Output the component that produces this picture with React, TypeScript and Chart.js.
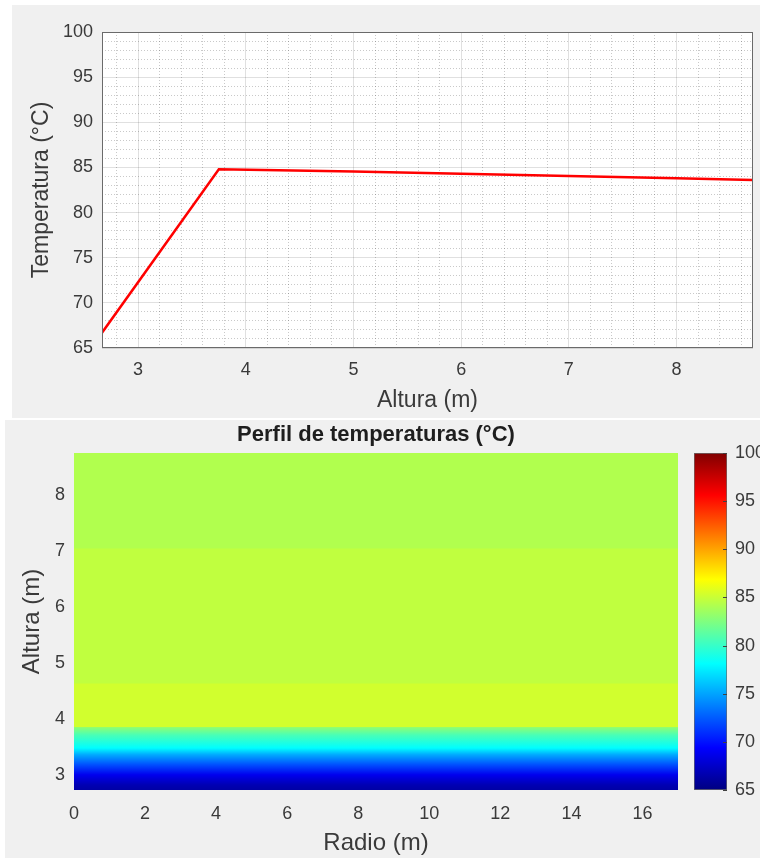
import React, { useEffect, useRef } from "react";
import { Chart, registerables } from "chart.js";

Chart.register(...registerables);

const FONT = '"Liberation Sans", Arial, Helvetica, sans-serif';
const TXT = "#3a3a3a";

// ---------- Top chart: temperature vs altitude ----------
const profileAltura = [2.665, 3.75, 5, 6, 7, 8, 8.71];
const profileTemp = [66.7, 84.8, 84.55, 84.3, 84.05, 83.8, 83.6];
const alturaTicks = [3, 4, 5, 6, 7, 8];
const tempTicks = [65, 70, 75, 80, 85, 90, 95, 100];
const alturaRange = [2.665, 8.71];
const tempRange = [65, 100];

// ---------- Bottom chart: temperature map (radio x altura) ----------
const radioTicks = [0, 2, 4, 6, 8, 10, 12, 14, 16];
const mapAlturaTicks = [3, 4, 5, 6, 7, 8];
const radioRange = [0, 17];
const mapAlturaRange = [2.73, 8.75];
// uniform bands: altitude where each band starts (extends up to the top) and its temperature
const bandFrom = [7.05, 4.64, 3.86];
const bandTemp = [84.2, 84.7, 85.3];
// smooth lower zone: altitude / temperature samples
const gradAltura = [3.86, 3.84, 3.71, 3.48, 3.36, 3.18, 3.0, 2.82, 2.73];
const gradTemp = [83.5, 82.8, 80.6, 78.1, 75.2, 72.1, 68.8, 66.75, 66.3];

// ---------- Colorbar ----------
const colorbarTicks = [65, 70, 75, 80, 85, 90, 95, 100];
const colorRange = [65, 100];
const jetKnots = [65, 69.375, 78.125, 86.875, 95.625, 100];

function clamp01(v: number) {
  return Math.max(0, Math.min(1, v));
}
function jetColor(t: number) {
  const x = (t - colorRange[0]) / (colorRange[1] - colorRange[0]);
  const r = clamp01(1.5 - Math.abs(4 * x - 3));
  const g = clamp01(1.5 - Math.abs(4 * x - 2));
  const b = clamp01(1.5 - Math.abs(4 * x - 1));
  return `rgb(${Math.round(r * 255)},${Math.round(g * 255)},${Math.round(b * 255)})`;
}

const framePlugin = {
  id: "frame",
  beforeDraw(chart: any, _a: any, opts: any) {
    if (!opts || !opts.fill) return;
    const { ctx, chartArea: a } = chart;
    ctx.save();
    ctx.fillStyle = opts.fill;
    ctx.fillRect(a.left, a.top, a.right - a.left, a.bottom - a.top);
    ctx.restore();
  },
  afterDraw(chart: any, _a: any, opts: any) {
    if (!opts || !opts.stroke) return;
    const { ctx, chartArea: a } = chart;
    ctx.save();
    ctx.strokeStyle = opts.stroke;
    ctx.lineWidth = 1;
    ctx.strokeRect(
      Math.round(a.left) + 0.5,
      Math.round(a.top) + 0.5,
      Math.round(a.right - a.left) - 1,
      Math.round(a.bottom - a.top) - 1
    );
    ctx.restore();
  },
};

// small inward tick marks on the right edge of the colorbar (MATLAB style)
const cbTicksPlugin = {
  id: "cbTicks",
  afterDraw(chart: any) {
    const { ctx, chartArea: a } = chart;
    const ys = chart.scales.y;
    ctx.save();
    ctx.strokeStyle = "#404040";
    ctx.lineWidth = 1;
    ys.ticks.forEach((t: any) => {
      const p = Math.round(ys.getPixelForValue(t.value)) + 0.5;
      ctx.beginPath();
      ctx.moveTo(a.right - 4, p);
      ctx.lineTo(a.right, p);
      ctx.stroke();
    });
    ctx.restore();
  },
};

function setTicks(values: number[]) {
  return (scale: any) => {
    scale.ticks = values.map((v) => ({ value: v }));
  };
}
function minorTicks(min: number, max: number, step: number, skip: number[]) {
  return (scale: any) => {
    const t: any[] = [];
    const start = Math.ceil(min / step) * step;
    for (let v = start; v < max - 1e-9; v += step) {
      const vv = Math.round(v * 1000) / 1000;
      if (vv > min + 1e-6 && !skip.some((s) => Math.abs(s - vv) < 1e-6)) t.push({ value: vv });
    }
    scale.ticks = t;
  };
}

export default function App() {
  const topRef = useRef<HTMLCanvasElement>(null);
  const heatRef = useRef<HTMLCanvasElement>(null);
  const cbRef = useRef<HTMLCanvasElement>(null);

  useEffect(() => {
    const tickFont = { family: FONT, size: 18 };
    const labelFont = { family: FONT, size: 23 };
    const labelFont2 = { family: FONT, size: 24 };

    const top = new Chart(topRef.current!, {
      type: "line",
      data: {
        datasets: [
          {
            data: profileAltura.map((x, i) => ({ x, y: profileTemp[i] })),
            borderColor: "#ff0000",
            borderWidth: 2.5,
            pointRadius: 0,
            tension: 0,
            fill: false,
          },
        ],
      },
      plugins: [framePlugin],
      options: {
        animation: false,
        responsive: false,
        events: [],
        layout: { padding: { left: 0, top: 27, right: 7, bottom: 0 } },
        plugins: {
          legend: { display: false },
          tooltip: { enabled: false },
          frame: { fill: "#ffffff", stroke: "#6a6a6a" },
        } as any,
        scales: {
          xMinor: {
            type: "linear",
            position: "top",
            min: alturaRange[0],
            max: alturaRange[1],
            afterBuildTicks: minorTicks(alturaRange[0], alturaRange[1], 0.2, alturaTicks),
            afterFit: (s: any) => {
              s.height = 0;
            },
            ticks: { display: false },
            grid: { color: "rgba(38,38,38,0.25)", drawTicks: false, lineWidth: 1 },
            border: { display: false, dash: [1, 2] },
          },
          yMinor: {
            type: "linear",
            position: "right",
            min: tempRange[0],
            max: tempRange[1],
            afterBuildTicks: minorTicks(tempRange[0], tempRange[1], 1, tempTicks),
            afterFit: (s: any) => {
              s.width = 0;
            },
            ticks: { display: false },
            grid: { color: "rgba(38,38,38,0.25)", drawTicks: false, lineWidth: 1 },
            border: { display: false, dash: [1, 2] },
          },
          x: {
            type: "linear",
            position: "bottom",
            min: alturaRange[0],
            max: alturaRange[1],
            afterBuildTicks: setTicks(alturaTicks),
            afterFit: (s: any) => {
              s.height = 70;
            },
            ticks: { font: tickFont, color: TXT, padding: 11, maxRotation: 0, autoSkip: false },
            grid: { color: "rgba(38,38,38,0.14)", drawTicks: false, lineWidth: 1 },
            border: { display: false },
            title: { display: true, text: "Altura (m)", font: labelFont, color: TXT, padding: { top: 0, bottom: 4 } },
          },
          y: {
            type: "linear",
            position: "left",
            min: tempRange[0],
            max: tempRange[1],
            afterBuildTicks: setTicks(tempTicks),
            afterFit: (s: any) => {
              s.width = 90;
            },
            ticks: { font: tickFont, color: TXT, padding: 9 },
            grid: { color: "rgba(38,38,38,0.14)", drawTicks: false, lineWidth: 1 },
            border: { display: false },
            title: { display: true, text: "Temperatura (°C)", font: labelFont, color: TXT, padding: { top: 16, bottom: 0 } },
          },
        },
      } as any,
    });

    const gradientFill = (c: any) => {
      const chart = c.chart;
      if (!chart.chartArea) return jetColor(gradTemp[0]);
      const ys = chart.scales.y;
      const p0 = ys.getPixelForValue(gradAltura[0]);
      const p1 = ys.getPixelForValue(gradAltura[gradAltura.length - 1]);
      const g = chart.ctx.createLinearGradient(0, p0, 0, p1);
      gradAltura.forEach((a, i) => {
        g.addColorStop(clamp01((ys.getPixelForValue(a) - p0) / (p1 - p0)), jetColor(gradTemp[i]));
      });
      return g;
    };

    const barCommon = {
      barPercentage: 1,
      categoryPercentage: 1,
      grouped: false,
      borderWidth: 0,
    };

    const heat = new Chart(heatRef.current!, {
      type: "bar",
      data: {
        labels: ["r"],
        datasets: [
          ...bandFrom.map((y0, i) => ({
            ...barCommon,
            data: [[y0, mapAlturaRange[1]]],
            backgroundColor: jetColor(bandTemp[i]),
          })),
          {
            ...barCommon,
            data: [[gradAltura[gradAltura.length - 1], mapAlturaRange[1]]],
            backgroundColor: gradientFill,
          },
        ] as any,
      },
      options: {
        animation: false,
        responsive: false,
        events: [],
        layout: { padding: { left: 0, top: 0, right: 2, bottom: 0 } },
        plugins: { legend: { display: false }, tooltip: { enabled: false } },
        scales: {
          x: { type: "category", display: false },
          xr: {
            type: "linear",
            position: "bottom",
            offset: false,
            min: radioRange[0],
            max: radioRange[1],
            afterBuildTicks: setTicks(radioTicks),
            afterFit: (s: any) => {
              s.height = 68;
            },
            ticks: { font: tickFont, color: TXT, padding: 13, maxRotation: 0, autoSkip: false },
            grid: { display: false, drawTicks: false, offset: false },
            border: { display: false },
            title: { display: true, text: "Radio (m)", font: labelFont2, color: TXT, padding: { top: 0, bottom: 0 } },
          },
          xt: {
            type: "linear",
            position: "top",
            offset: false,
            min: radioRange[0],
            max: radioRange[1],
            afterFit: (s: any) => {
              s.height = 33;
            },
            ticks: { display: false },
            grid: { display: false, drawTicks: false, offset: false },
            border: { display: false },
            title: {
              display: true,
              text: "Perfil de temperaturas (°C)",
              font: { family: FONT, size: 22, weight: "bold" },
              color: "#1e1e1e",
              padding: { top: 2, bottom: 0 },
            },
          },
          y: {
            type: "linear",
            position: "left",
            min: mapAlturaRange[0],
            max: mapAlturaRange[1],
            afterBuildTicks: setTicks(mapAlturaTicks),
            afterFit: (s: any) => {
              s.width = 69;
            },
            ticks: { font: tickFont, color: TXT, padding: 9 },
            grid: { display: false, drawTicks: false },
            border: { display: false },
            title: { display: true, text: "Altura (m)", font: labelFont2, color: TXT, padding: { top: 13, bottom: 0 } },
          },
        },
      } as any,
    });

    const cbFill = (c: any) => {
      const chart = c.chart;
      if (!chart.chartArea) return jetColor(85);
      const ys = chart.scales.y;
      const p0 = ys.getPixelForValue(colorRange[1]);
      const p1 = ys.getPixelForValue(colorRange[0]);
      const g = chart.ctx.createLinearGradient(0, p0, 0, p1);
      jetKnots.forEach((t) => {
        g.addColorStop(clamp01((ys.getPixelForValue(t) - p0) / (p1 - p0)), jetColor(t));
      });
      return g;
    };

    const cb = new Chart(cbRef.current!, {
      type: "bar",
      data: {
        labels: ["c"],
        datasets: [
          {
            data: [[colorRange[0], colorRange[1]]],
            backgroundColor: cbFill,
            borderColor: "#6a6a6a",
            borderWidth: 1,
            borderSkipped: false,
            barPercentage: 1,
            categoryPercentage: 1,
          },
        ] as any,
      },
      plugins: [cbTicksPlugin],
      options: {
        animation: false,
        responsive: false,
        events: [],
        layout: { padding: { left: 14, top: 13, right: 0, bottom: 10 } },
        plugins: { legend: { display: false }, tooltip: { enabled: false } },
        scales: {
          x: { type: "category", display: false },
          y: {
            type: "linear",
            position: "right",
            min: colorRange[0],
            max: colorRange[1],
            afterBuildTicks: setTicks(colorbarTicks),
            afterFit: (s: any) => {
              s.width = 33;
              s.paddingTop = 0;
              s.paddingBottom = 0;
            },
            ticks: { font: tickFont, color: TXT, padding: 8 },
            grid: { display: false, drawTicks: false },
            border: { display: false },
          },
        },
      } as any,
    });

    return () => {
      top.destroy();
      heat.destroy();
      cb.destroy();
    };
  }, []);

  return (
    <div
      style={{
        position: "absolute",
        left: 0,
        top: 0,
        width: 760,
        height: 858,
        background: "#ffffff",
        overflow: "hidden",
      }}
    >
      <div style={{ position: "absolute", left: 12, top: 5, width: 748, height: 413, background: "#f0f0f0" }}>
        <canvas ref={topRef} width={748} height={413} style={{ display: "block" }} />
      </div>
      <div style={{ position: "absolute", left: 5, top: 420, width: 755, height: 438, background: "#f0f0f0" }}>
        <canvas
          ref={heatRef}
          width={675}
          height={438}
          style={{ display: "block", position: "absolute", left: 0, top: 0 }}
        />
        <canvas
          ref={cbRef}
          width={80}
          height={360}
          style={{ display: "block", position: "absolute", left: 675, top: 20 }}
        />
      </div>
    </div>
  );
}
